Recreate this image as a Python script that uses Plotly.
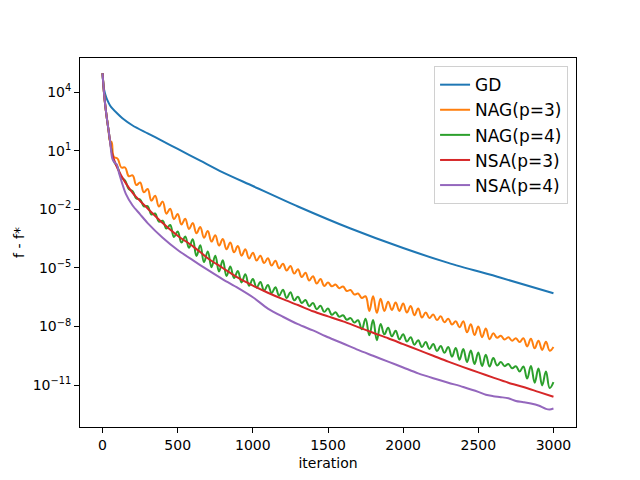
import numpy as np
import plotly.graph_objects as go

# values are log10(f - f*)
head_iter = [0, 5, 10, 20, 30, 40, 50]
head_log = [4.98, 4.45, 3.95, 3.2, 2.6, 2.05, 1.5]

gd_iter = [0, 3, 10, 20, 32, 50, 65, 100, 132, 200, 300, 400, 500, 650, 800,
           1000, 1300, 1650, 2000, 2300, 2650, 3000]
gd_log = [4.98, 4.6, 4.15, 3.85, 3.6, 3.33, 3.18, 2.9, 2.67, 2.3, 1.9, 1.5, 1.1,
          0.5, -0.1, -0.8, -1.85, -2.98, -3.98, -4.74, -5.5, -6.3]

# oscillating NAG curves, sampled at peaks and troughs
osc_iter = head_iter + [60] + list(range(75, 3001, 25))

nag3_log = head_log + [
    1.45, 0.7, 0.6, 0.15, 0.15, -0.3, -0.25, -0.75, -0.62, -1.12, -0.95,
    -1.55, -1.3, -1.85, -1.6, -2.22, -1.96, -2.5, -2.23, -2.77, -2.48,
    -3.0, -2.7, -3.22, -2.9, -3.45, -3.1, -3.65, -3.32, -3.85, -3.52,
    -4.04, -3.7, -4.2, -3.88, -4.37, -4.04, -4.52, -4.22, -4.62, -4.37,
    -4.75, -4.5, -4.88, -4.63, -5.02, -4.78, -5.13, -4.9, -5.29, -5.07,
    -5.46, -5.25, -5.64, -5.42, -5.8, -5.57, -5.92, -5.75, -5.94, -5.85,
    -6.04, -5.95, -6.18, -6.13, -6.36, -6.31, -6.54, -6.45, -7.2, -6.45,
    -7.3, -6.58, -7.2, -6.73, -7.15, -6.77, -7.2, -6.82, -7.28, -6.95,
    -7.42, -7.08, -7.54, -7.28, -7.57, -7.38, -7.67, -7.48, -7.78, -7.6,
    -7.9, -7.73, -8.04, -7.73, -8.3, -7.88, -8.44, -8.0, -8.55, -8.1,
    -8.65, -8.35, -8.58, -8.47, -8.67, -8.55, -8.73, -8.6, -8.8, -8.6,
    -9.02, -8.63, -9.12, -8.73, -9.2, -8.78, -9.24, -9.05]

nag4_log = head_log + [
    1.02, 0.47, 0.16, -0.35, -0.52, -0.96, -1.07, -1.44, -1.49, -1.84, -1.83,
    -2.26, -2.21, -2.63, -2.58, -2.98, -2.8, -3.41, -3.13, -3.7, -3.39,
    -3.97, -3.53, -4.39, -3.84, -4.7, -4.15, -4.96, -4.37, -5.18, -4.6,
    -5.41, -4.92, -5.52, -5.15, -5.74, -5.32, -5.91, -5.57, -6.01, -5.72,
    -6.16, -5.87, -6.29, -5.99, -6.42, -6.12, -6.54, -6.24, -6.66, -6.48,
    -6.8, -6.64, -6.96, -6.8, -7.11, -6.94, -7.25, -7.08, -7.4, -7.27,
    -7.5, -7.42, -7.65, -7.57, -7.8, -7.68, -8.14, -7.6, -8.45, -7.67,
    -8.7, -7.87, -8.4, -8.07, -8.5, -8.22, -8.66, -8.4, -8.77, -8.55,
    -8.93, -8.7, -9.05, -8.8, -9.15, -8.9, -9.25, -9.0, -9.35, -9.05,
    -9.55, -9.1, -9.7, -9.15, -9.82, -9.23, -9.92, -9.33, -10.02, -9.45,
    -10.05, -9.62, -10.0, -9.82, -10.03, -9.92, -10.14, -10.04, -10.3, -10.05,
    -10.67, -10.02, -10.88, -10.15, -11.02, -10.3, -11.15, -10.85]

nsa3_iter = head_iter + [60, 75, 100, 150, 200, 250, 300, 400, 500, 600, 700,
                         800, 900, 1000, 1100, 1200, 1300, 1400, 1500, 1600,
                         1700, 1800, 1900, 2000, 2100, 2200, 2300, 2400, 2500,
                         2600, 2700, 2800, 2900, 3000]
nsa3_log = head_log + [1.0, 0.58, 0.1, -0.6, -1.15, -1.57, -1.95, -2.7, -3.35,
                       -3.88, -4.5, -5.0, -5.5, -5.9, -6.27, -6.6, -6.9,
                       -7.22, -7.48, -7.74, -8.03, -8.32, -8.6, -8.9, -9.2,
                       -9.5, -9.8, -10.08, -10.35, -10.62, -10.88, -11.1,
                       -11.35, -11.6]

nsa4_iter = head_iter + [65, 80, 95, 110, 130, 155, 200, 250, 300, 400, 500,
                         600, 700, 800, 900, 1000, 1100, 1200, 1300, 1400,
                         1500, 1600, 1700, 1800, 1900, 2000, 2100, 2200, 2300,
                         2400, 2500, 2550, 2600, 2650, 2700, 2750, 2800, 2850,
                         2900, 2950, 2975, 3000]
nsa4_log = head_log + [0.6, 0.4, 0.3, -0.15, -0.65, -1.2, -1.8, -2.25, -2.7,
                       -3.45, -4.08, -4.6, -5.1, -5.58, -6.02, -6.5, -7.08,
                       -7.5, -7.88, -8.2, -8.55, -8.87, -9.2, -9.5, -9.8,
                       -10.1, -10.4, -10.65, -10.88, -11.1, -11.35, -11.5,
                       -11.57, -11.62, -11.68, -11.82, -11.88, -11.95, -12.05,
                       -12.22, -12.25, -12.2]

series = [
    ("GD", gd_iter, gd_log, "#1f77b4", 0.8),
    ("NAG(p=3)", osc_iter, nag3_log, "#ff7f0e", 1.2),
    ("NAG(p=4)", osc_iter, nag4_log, "#2ca02c", 1.2),
    ("NSA(p=3)", nsa3_iter, nsa3_log, "#d62728", 0.8),
    ("NSA(p=4)", nsa4_iter, nsa4_log, "#9467bd", 0.8),
]

fig = go.Figure()
for name, xs, logs, color, smooth in series:
    fig.add_trace(go.Scatter(x=xs, y=10 ** np.array(logs), mode="lines",
                             name=name,
                             line=dict(color=color, width=2, shape="spline",
                                       smoothing=smooth)))

yticks = [4, 1, -2, -5, -8, -11]
ytext = ["10<sup>%s</sup>" % str(e).replace("-", "\u2212") for e in yticks]

axis_style = dict(showline=True, linecolor="black", linewidth=1, mirror=True,
                  ticks="outside", ticklen=5, tickwidth=1, tickcolor="black",
                  showgrid=False, zeroline=False, automargin=False,
                  tickfont=dict(size=14))

# the page body adds 8px, so the figure is 8px smaller than the window
fig.update_layout(
    width=632, height=472,
    margin=dict(l=72, r=64, t=50, b=53),
    paper_bgcolor="white", plot_bgcolor="white",
    font=dict(family="DejaVu Sans", size=14, color="black"),
    xaxis=dict(range=[-150, 3150], tickvals=[0, 500, 1000, 1500, 2000, 2500, 3000],
               title=dict(text="iteration", standoff=6, font=dict(size=14)),
               **axis_style),
    yaxis=dict(type="log", range=[-13.15, 5.76],
               tickvals=[10.0 ** e for e in yticks], ticktext=ytext,
               title=dict(text="f - f*", standoff=4, font=dict(size=14)),
               **axis_style),
    legend=dict(x=0.984, y=0.978, xanchor="right", yanchor="top",
                bgcolor="white", bordercolor="#d0d0d0", borderwidth=1,
                itemwidth=30, font=dict(size=17)),
    showlegend=True,
)

fig.write_html("out.html")
